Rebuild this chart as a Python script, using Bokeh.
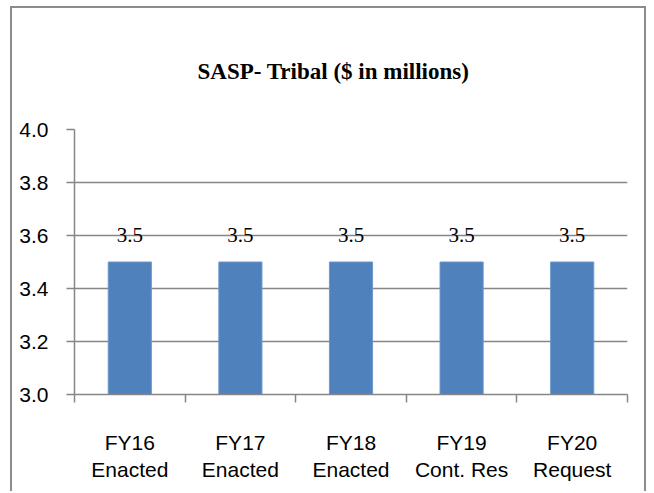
from bokeh.plotting import figure
from bokeh.models import (ColumnDataSource, Range1d, LinearAxis, Title,
                          FixedTicker, LabelSet, PrintfTickFormatter)
from bokeh.embed import file_html
from bokeh.resources import INLINE

categories = ["FY16\nEnacted", "FY17\nEnacted", "FY18\nEnacted", "FY19\nCont. Res", "FY20\nRequest"]
values = [3.5, 3.5, 3.5, 3.5, 3.5]
y_ticks = [3.0, 3.2, 3.4, 3.6, 3.8, 4.0]
title_text = "SASP- Tribal ($ in millions)"

n = len(categories)
centers = [i + 0.5 for i in range(n)]
bounds = list(range(n + 1))
labels = [f"{v:.1f}" for v in values]
src = ColumnDataSource(dict(x=centers, val=values, lab=labels))

FONT = "Liberation Sans"
GRAY = "#868686"

p = figure(width=636, height=485, x_range=Range1d(0, n), y_range=Range1d(y_ticks[0], y_ticks[-1]),
           title=None, output_backend="svg", toolbar_location=None, x_axis_location=None,
           min_border_left=62, min_border_right=21, min_border_top=121, min_border_bottom=99,
           margin=(6, 0, 0, 10),
           styles={"border": "2px solid #8c8c8c", "border-bottom": "none"})

p.vbar(x="x", top="val", bottom=y_ticks[0], width=0.39, source=src,
       fill_color="#4F81BD", line_color="#6C97CB", line_width=1)

p.outline_line_color = None
p.background_fill_color = "white"
p.border_fill_color = "white"
for g in p.grid:
    if g.dimension == 0:
        g.visible = False

# y axis
ya = p.yaxis[0]
ya.ticker = FixedTicker(ticks=y_ticks)
ya.formatter = PrintfTickFormatter(format="%.1f")
ya.axis_line_color = GRAY
ya.axis_line_width = 1.5
ya.major_tick_line_color = GRAY
ya.major_tick_line_width = 1.5
ya.major_tick_out = 8
ya.major_tick_in = 0
ya.minor_tick_line_color = None
ya.major_label_text_font = FONT
ya.major_label_text_font_size = "21px"
ya.major_label_text_color = "black"
ya.major_label_standoff = 18

p.ygrid.grid_line_color = GRAY
p.ygrid.grid_line_width = 1.5
p.ygrid.ticker = FixedTicker(ticks=y_ticks)

# x axis: labels at category centres, tick marks (minor) at category boundaries
xa = LinearAxis(ticker=FixedTicker(ticks=centers, minor_ticks=bounds),
                major_label_overrides={c: lab for c, lab in zip(centers, categories)})
xa.axis_line_color = GRAY
xa.axis_line_width = 1.5
xa.major_tick_line_color = None
xa.major_tick_out = 0
xa.major_tick_in = 0
xa.minor_tick_line_color = GRAY
xa.minor_tick_line_width = 1.5
xa.minor_tick_out = 8
xa.minor_tick_in = 0
xa.major_label_text_font = FONT
xa.major_label_text_font_size = "21px"
xa.major_label_text_color = "black"
xa.major_label_standoff = 28
p.add_layout(xa, "below")

p.add_layout(LabelSet(x="x", y="val", text="lab", source=src, y_offset=20,
                      text_align="center", text_baseline="alphabetic",
                      text_font=FONT, text_font_size="21px", text_color="black"))

title = Title(text=title_text, align="left", offset=123, standoff=92,
              text_color="black", text_font="Liberation Serif",
              text_font_style="bold", text_font_size="23px")
p.add_layout(title, "above")

open("out.html", "w").write(file_html(p, INLINE))
